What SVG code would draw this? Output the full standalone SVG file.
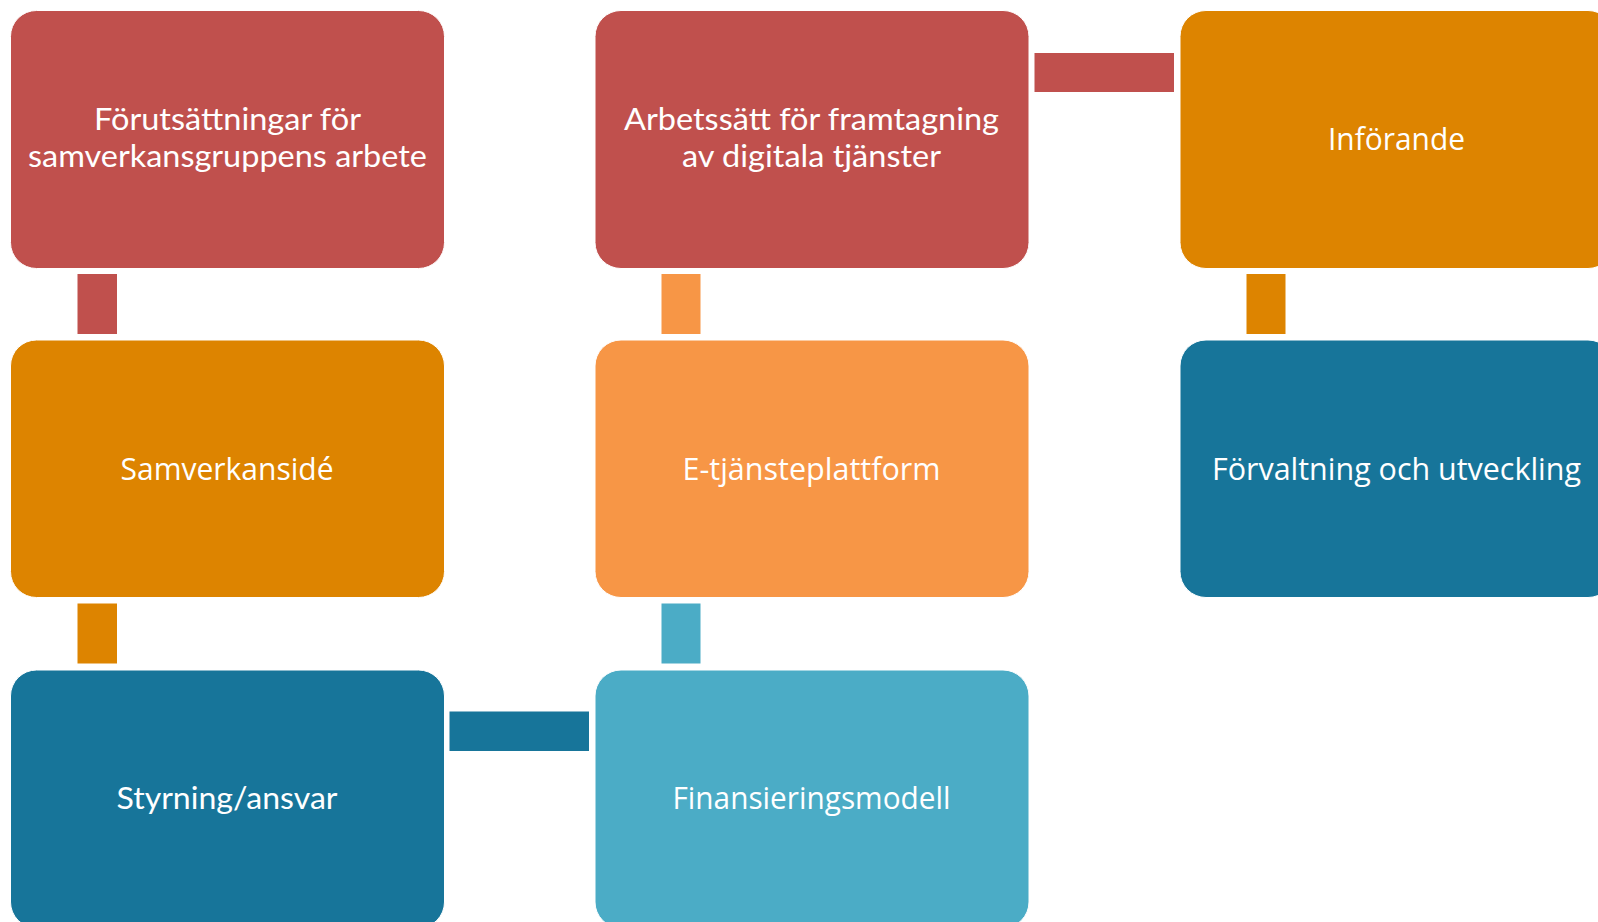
<svg xmlns="http://www.w3.org/2000/svg" width="1598" height="922" viewBox="0 0 1598 922">
  <style>
    .box { stroke: #ffffff; stroke-width: 1; }
    .red { fill: #C0504D; }
    .orange { fill: #DD8400; }
    .lorange { fill: #F79646; }
    .teal { fill: #17759A; }
    .lblue { fill: #4BACC6; }
    .t1 { font-family: Lato, "Liberation Sans", sans-serif; font-size: 31px; fill: #ffffff; text-anchor: middle; }
    .t2 { font-family: "Open Sans", "Noto Sans", sans-serif; font-size: 30.5px; fill: #ffffff; text-anchor: middle; }
  </style>
  <rect width="1598" height="922" fill="#ffffff"/>
  <g id="connectors">
    <rect class="red" x="77.5" y="274" width="39.5" height="60"/>
    <rect class="orange" x="77.5" y="603.5" width="39.5" height="60"/>
    <rect class="teal" x="449.5" y="711.5" width="139.5" height="39.5"/>
    <rect class="lblue" x="661.5" y="603.5" width="39" height="60"/>
    <rect class="lorange" x="661.5" y="274" width="39" height="60"/>
    <rect class="red" x="1034.5" y="53" width="139.5" height="39"/>
    <rect class="orange" x="1246.5" y="274" width="39" height="60"/>
  </g>
  <g id="node-forutsattningar">
    <rect class="box red" x="10.5" y="10.5" width="434" height="258" rx="26"/>
    <text class="t1" x="227.5" y="130" textLength="267" lengthAdjust="spacingAndGlyphs">Förutsättningar för</text>
    <text class="t1" x="227.5" y="167" textLength="399" lengthAdjust="spacingAndGlyphs">samverkansgruppens arbete</text>
  </g>
  <g id="node-samverkanside">
    <rect class="box orange" x="10.5" y="340" width="434" height="257.5" rx="26"/>
    <text class="t2" x="227" y="479.5" textLength="213" lengthAdjust="spacingAndGlyphs">Samverkansidé</text>
  </g>
  <g id="node-styrning">
    <rect class="box teal" x="10.5" y="670" width="434" height="258" rx="26"/>
    <text class="t1" x="227" y="808.5" textLength="221" lengthAdjust="spacingAndGlyphs">Styrning/ansvar</text>
  </g>
  <g id="node-arbetssatt">
    <rect class="box red" x="595" y="10.5" width="434" height="258" rx="26"/>
    <text class="t1" x="811.5" y="130" textLength="375" lengthAdjust="spacingAndGlyphs">Arbetssätt för framtagning</text>
    <text class="t1" x="811.5" y="167" textLength="259" lengthAdjust="spacingAndGlyphs">av digitala tjänster</text>
  </g>
  <g id="node-etjanst">
    <rect class="box lorange" x="595" y="340" width="434" height="257.5" rx="26"/>
    <text class="t2" x="811.5" y="479.5" textLength="258" lengthAdjust="spacingAndGlyphs">E-tjänsteplattform</text>
  </g>
  <g id="node-finansiering">
    <rect class="box lblue" x="595" y="670" width="434" height="258" rx="26"/>
    <text class="t2" x="811.5" y="808.5" textLength="278" lengthAdjust="spacingAndGlyphs">Finansieringsmodell</text>
  </g>
  <g id="node-inforande">
    <rect class="box orange" x="1180" y="10.5" width="434" height="258" rx="26"/>
    <text class="t2" x="1396.5" y="150" textLength="137" lengthAdjust="spacingAndGlyphs">Införande</text>
  </g>
  <g id="node-forvaltning">
    <rect class="box teal" x="1180" y="340" width="434" height="257.5" rx="26"/>
    <text class="t2" x="1396.5" y="479.5" textLength="369" lengthAdjust="spacingAndGlyphs">Förvaltning och utveckling</text>
  </g>
</svg>
